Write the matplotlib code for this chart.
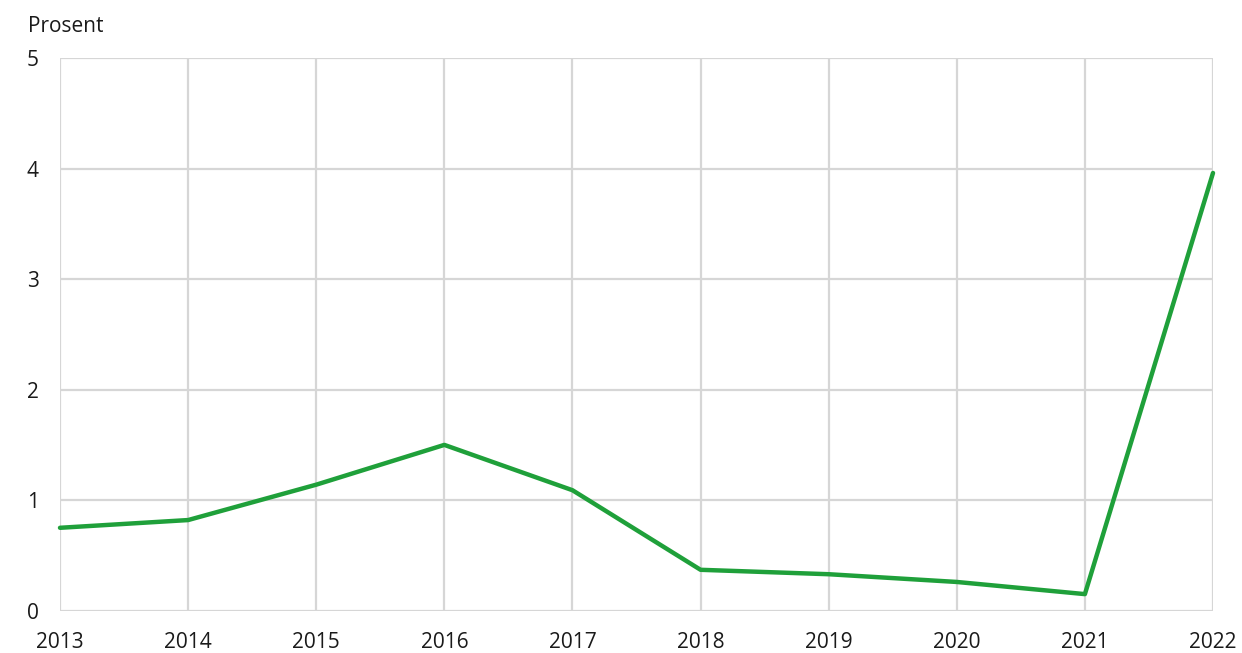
import matplotlib
matplotlib.use("Agg")
import matplotlib.pyplot as plt

years = [2013, 2014, 2015, 2016, 2017, 2018, 2019, 2020, 2021, 2022]
values = [0.75, 0.82, 1.14, 1.50, 1.09, 0.37, 0.33, 0.26, 0.15, 3.96]
yticks = [0, 1, 2, 3, 4, 5]
unit_label = "Prosent"

plt.rcParams['font.family'] = ['Open Sans', 'DejaVu Sans']

fig = plt.figure(figsize=(12.42, 6.53), dpi=100)
ax = fig.add_axes([60/1242, (653-610.7)/653, (1213-60)/1242, (610.7-58)/653])

ax.plot(years, values, color='#1fa03a', linewidth=3.2, solid_capstyle='round', zorder=3, clip_on=False)

ax.set_xlim(years[0], years[-1])
ax.set_ylim(0, 5)
ax.set_xticks(years)
ax.set_xticklabels([str(y) for y in years])
ax.set_yticks(yticks)
ax.set_yticklabels([str(t) for t in yticks])
for lab in ax.get_yticklabels():
    lab.set_horizontalalignment('left')

ax.grid(True, color='#d6d6d6', linewidth=1.6, zorder=0)
for s in ax.spines.values():
    s.set_visible(False)
ax.tick_params(axis='both', length=0, labelsize=15, colors='#1a1a1a')
ax.tick_params(axis='y', pad=24)
ax.tick_params(axis='x', pad=15)

fig.text(28/1242, 1 - 27/653, unit_label, fontsize=15, color='#1a1a1a', ha='left', va='center')

fig.savefig('out.png', dpi=100)
